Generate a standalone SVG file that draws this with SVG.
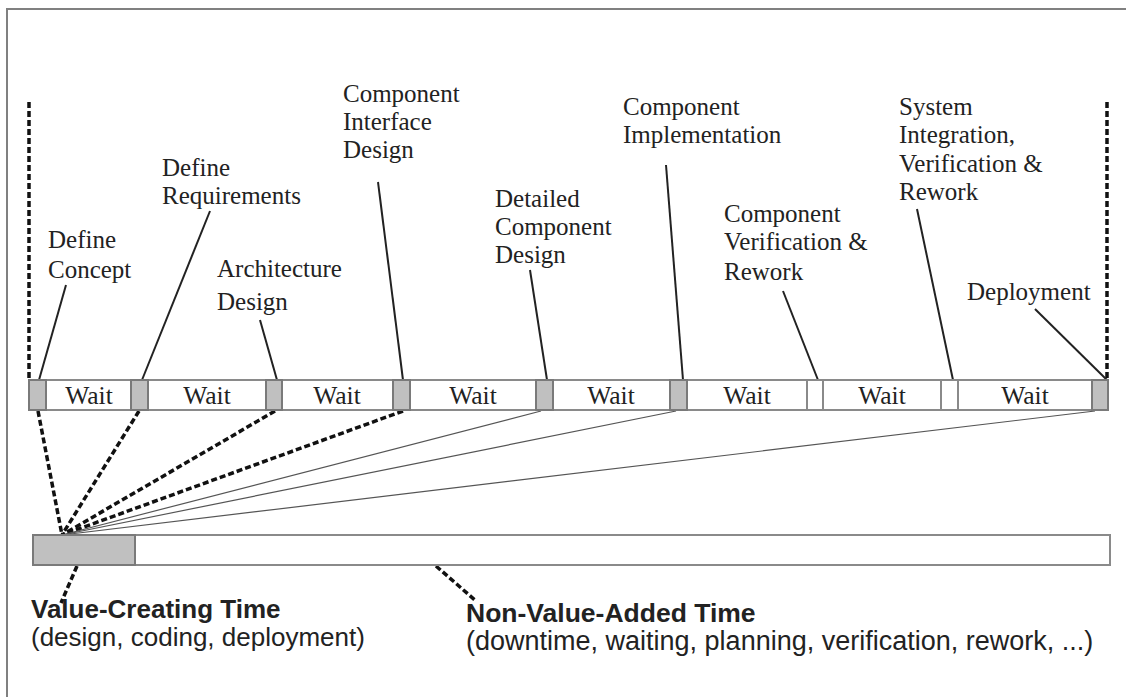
<svg xmlns="http://www.w3.org/2000/svg" width="1126" height="697" viewBox="0 0 1126 697">
<style>
.lbl{font-family:"Liberation Serif","Times New Roman",serif;font-size:25px;fill:#222}
.wait{font-family:"Liberation Serif","Times New Roman",serif;font-size:25.5px;fill:#222;text-anchor:middle}
.bt{font-family:"Liberation Sans",Arial,sans-serif;font-size:26px;font-weight:bold;fill:#222}
.st{font-family:"Liberation Sans",Arial,sans-serif;font-size:26px;fill:#222}
.seg{fill:#fff;stroke:#8a8a8a;stroke-width:2}
.act{fill:#c0c0c0;stroke:#7a7a7a;stroke-width:2}
.lead{stroke:#222;stroke-width:2;fill:none}
.dash{stroke:#111;stroke-width:3.5;stroke-dasharray:6 3;fill:none}
.thin{stroke:#555;stroke-width:1.2;fill:none}
</style>
<rect width="1126" height="697" fill="#fff"/>
<path d="M7 697 V9 H1126" fill="none" stroke="#808080" stroke-width="2"/>

<g id="connectors">
<line class="dash" x1="29" y1="102" x2="29" y2="380"/>
<line class="dash" x1="1107" y1="102" x2="1107" y2="380"/>
<line class="lead" x1="66" y1="285" x2="39" y2="380"/>
<line class="lead" x1="210" y1="211" x2="142" y2="380"/>
<line class="lead" x1="260" y1="320" x2="277" y2="380"/>
<line class="lead" x1="378" y1="182" x2="403" y2="380"/>
<line class="lead" x1="530" y1="270" x2="547" y2="380"/>
<line class="lead" x1="666" y1="165" x2="683" y2="380"/>
<line class="lead" x1="783" y1="291" x2="818" y2="380"/>
<line class="lead" x1="917" y1="209" x2="953" y2="380"/>
<line class="lead" x1="1035" y1="309" x2="1107" y2="380"/>
<line class="dash" x1="38" y1="411" x2="62" y2="535"/>
<line class="dash" x1="139" y1="411" x2="62" y2="535"/>
<line class="dash" x1="275" y1="411" x2="62" y2="535"/>
<line class="dash" x1="403" y1="411" x2="62" y2="535"/>
<line class="thin" x1="541" y1="411" x2="62" y2="535"/>
<line class="thin" x1="676" y1="411" x2="62" y2="535"/>
<line class="thin" x1="1095" y1="411" x2="62" y2="535"/>
<line class="dash" x1="77" y1="566" x2="61" y2="603"/>
<line class="dash" x1="436" y1="566" x2="476" y2="601"/>
</g>

<g id="timeline">
<rect class="seg" x="29" y="380" width="1079" height="30"/>
<rect class="act" x="29" y="380" width="17" height="30"/>
<rect class="act" x="131" y="380" width="17" height="30"/>
<rect class="act" x="266" y="380" width="16" height="30"/>
<rect class="act" x="393" y="380" width="17" height="30"/>
<rect class="act" x="536" y="380" width="17" height="30"/>
<rect class="act" x="670" y="380" width="17" height="30"/>
<rect class="seg" x="807" y="380" width="16" height="30"/>
<rect class="seg" x="941" y="380" width="17" height="30"/>
<rect class="act" x="1092" y="380" width="16" height="30"/>
<text class="wait" x="89" y="404">Wait</text>
<text class="wait" x="207" y="404">Wait</text>
<text class="wait" x="337" y="404">Wait</text>
<text class="wait" x="473" y="404">Wait</text>
<text class="wait" x="611" y="404">Wait</text>
<text class="wait" x="747" y="404">Wait</text>
<text class="wait" x="882" y="404">Wait</text>
<text class="wait" x="1025" y="404">Wait</text>
</g>

<g id="summary-bar">
<rect class="seg" x="33" y="535" width="1077" height="30"/>
<rect class="act" x="33" y="535" width="102" height="30"/>
</g>

<g id="define-concept"><text class="lbl" x="48" y="248">Define</text><text class="lbl" x="48" y="278">Concept</text></g>
<g id="define-requirements"><text class="lbl" x="162" y="176">Define</text><text class="lbl" x="162" y="204">Requirements</text></g>
<g id="architecture-design"><text class="lbl" x="217" y="277">Architecture</text><text class="lbl" x="217" y="310">Design</text></g>
<g id="component-interface-design"><text class="lbl" x="343" y="102">Component</text><text class="lbl" x="343" y="130">Interface</text><text class="lbl" x="343" y="158">Design</text></g>
<g id="detailed-component-design"><text class="lbl" x="495" y="207">Detailed</text><text class="lbl" x="495" y="235">Component</text><text class="lbl" x="495" y="263">Design</text></g>
<g id="component-implementation"><text class="lbl" x="623" y="115">Component</text><text class="lbl" x="623" y="143">Implementation</text></g>
<g id="component-verification"><text class="lbl" x="724" y="222">Component</text><text class="lbl" x="724" y="250">Verification &amp;</text><text class="lbl" x="724" y="280">Rework</text></g>
<g id="system-integration"><text class="lbl" x="899" y="115">System</text><text class="lbl" x="899" y="143">Integration,</text><text class="lbl" x="899" y="172">Verification &amp;</text><text class="lbl" x="899" y="200">Rework</text></g>
<g id="deployment"><text class="lbl" x="967" y="300">Deployment</text></g>

<g id="value-creating"><text class="bt" x="31" y="618">Value-Creating Time</text><text class="st" x="31" y="646">(design, coding, deployment)</text></g>
<g id="non-value-added"><text class="bt" x="466" y="622" style="font-size:26.5px">Non-Value-Added Time</text><text class="st" x="466" y="650" style="font-size:27px">(downtime, waiting, planning, verification, rework, ...)</text></g>
</svg>
